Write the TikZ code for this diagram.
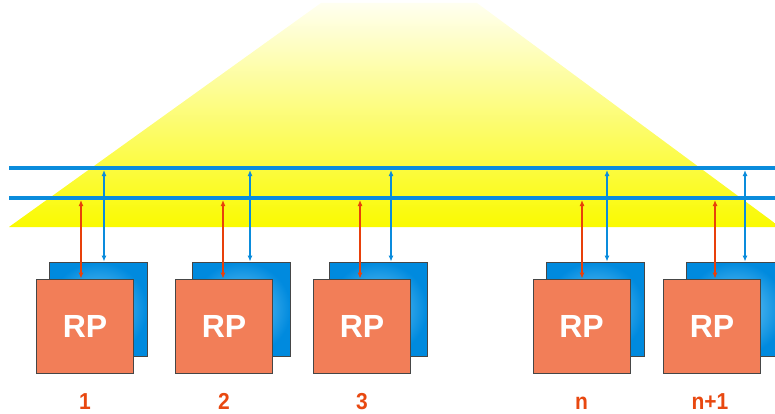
\documentclass[tikz,border=0pt]{standalone}
\usepackage{fontspec}
\setmainfont{Liberation Sans}
\usetikzlibrary{arrows.meta}
\usetikzlibrary{positioning}

\definecolor{busblue}{RGB}{10,140,220}
\definecolor{linkred}{RGB}{232,64,10}
\definecolor{rpfill}{RGB}{242,126,88}
\definecolor{rplabel}{RGB}{232,72,16}
\definecolor{boxedge}{RGB}{70,70,70}
\definecolor{cardout}{RGB}{0,138,222}
\definecolor{cardin}{RGB}{120,205,248}
\definecolor{lampyel}{RGB}{250,250,0}
\definecolor{lamptop}{RGB}{255,255,240}

\tikzset{
  rpbox/.style={rectangle,draw=boxedge,line width=0.8pt,fill=rpfill,minimum width=97pt,minimum height=94pt,inner sep=0pt,text=white,font=\fontsize{32}{32}\selectfont\bfseries},
  backcard/.style={rectangle,draw=boxedge,line width=0.8pt,inner color=cardin,outer color=cardout,minimum width=98pt,minimum height=94pt},
  redlink/.style={linkred,line width=1.4pt,{Latex[length=6pt,width=5pt]}-{Latex[length=6pt,width=5pt]}},
  bluelink/.style={busblue,line width=1.4pt,{Latex[length=6pt,width=5pt]}-{Latex[length=6pt,width=5pt]}},
  bus/.style={busblue,line width=4pt},
  rpnum/.style={text=rplabel,font=\fontsize{21}{21}\selectfont\bfseries,anchor=base,yscale=1.1}
}

\begin{document}
\begin{tikzpicture}[x=1pt,y=-1pt]
\useasboundingbox (0,0) rectangle (775,414);
\clip (0,0) rectangle (775,414);

% light cone
\shade[top color=lamptop,bottom color=lampyel] (9,227) -- (321,3) -- (477,3) -- (780,227) -- cycle;

% back cards
\node[backcard] (bk1) at (98,309) {};
\node[backcard] (bk2) at (241.5,309) {};
\node[backcard] (bk3) at (378,309) {};
\node[backcard] (bkn) at (595,309) {};
\node[backcard] (bkm) at (735,309) {};

% RP boxes
\node[rpbox] (rp1) at (85,326) {RP};
\node[rpbox] (rp2) at (224,326) {RP};
\node[rpbox] (rp3) at (362,326) {RP};
\node[rpbox] (rpn) at (581.5,326) {RP};
\node[rpbox] (rpm) at (712,326) {RP};

% numbers
\node[rpnum] (lb1) at (85,409) {1};
\node[rpnum] (lb2) at (224,409) {2};
\node[rpnum] (lb3) at (362,409) {3};
\node[rpnum] (lbn) at (581.5,409) {n};
\node[rpnum] (lbm) at (710,409) {n+1};

% taps on the buses
\coordinate (r1) at (81,200);
\coordinate (r2) at (223,200);
\coordinate (r3) at (360,200);
\coordinate (rn) at (582,200);
\coordinate (rm) at (715,200);
\coordinate (b1) at (104,170);
\coordinate (b2) at (250,170);
\coordinate (b3) at (391,170);
\coordinate (bn) at (607,170);
\coordinate (bm) at (745,170);

\draw[bluelink] (b1) -- (b1 |- bk1.north);
\draw[bluelink] (b2) -- (b2 |- bk2.north);
\draw[bluelink] (b3) -- (b3 |- bk3.north);
\draw[bluelink] (bn) -- (bn |- bkn.north);
\draw[bluelink] (bm) -- (bm |- bkm.north);

\draw[redlink] (r1) -- (r1 |- rp1.north);
\draw[redlink] (r2) -- (r2 |- rp2.north);
\draw[redlink] (r3) -- (r3 |- rp3.north);
\draw[redlink] (rn) -- (rn |- rpn.north);
\draw[redlink] (rm) -- (rm |- rpm.north);

% buses
\draw[bus] (9,168) -- (775,168);
\draw[bus] (9,198) -- (775,198);

\end{tikzpicture}
\end{document}
